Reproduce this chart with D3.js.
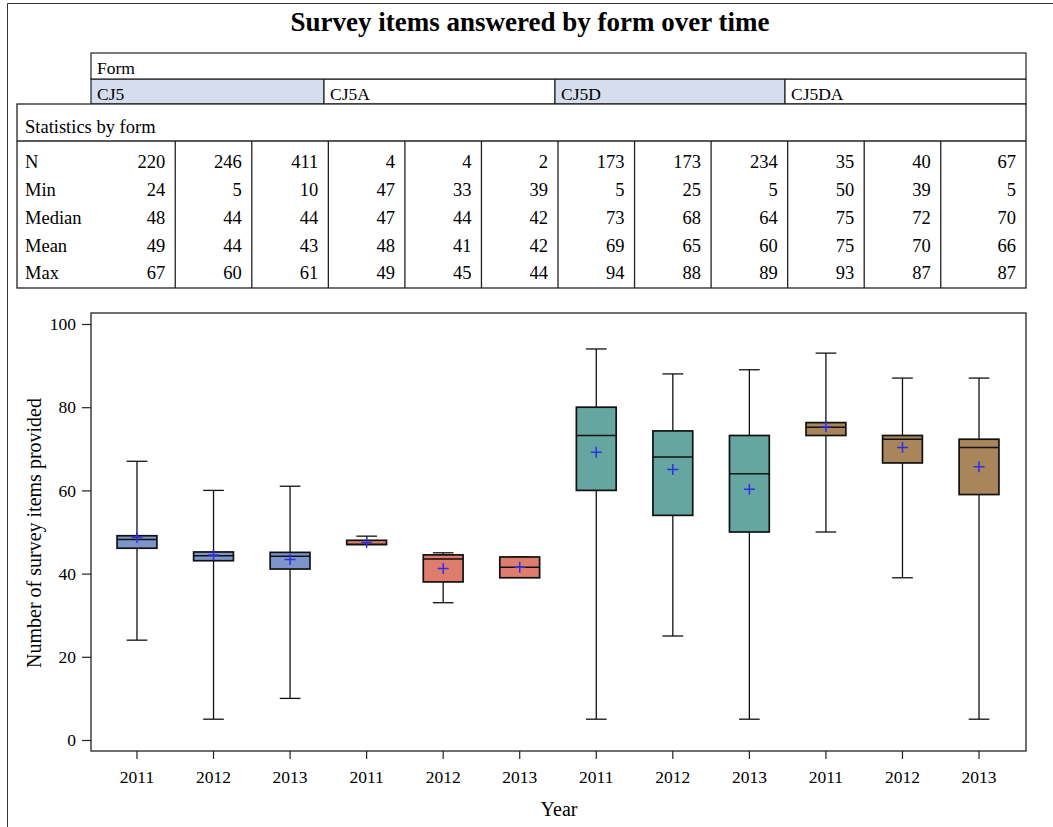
<!DOCTYPE html>
<html>
<head>
<meta charset="utf-8">
<script src="https://cdn.jsdelivr.net/npm/d3@7"></script>
<style>
html,body{margin:0;padding:0;background:#fff;}
svg{display:block;}
text{font-family:"Liberation Serif","Times New Roman",serif;fill:#000;}
</style>
</head>
<body>
<svg id="chart" width="1053" height="827"></svg>
<script>
// ---------- data ----------
const forms = ["CJ5", "CJ5A", "CJ5D", "CJ5DA"];
const years = ["2011", "2012", "2013"];
const formColors = ["#7C96CC", "#DE7D6D", "#66A6A0", "#A8855A"];

const minValues    = [24, 5, 10, 47, 33, 39, 5, 25, 5, 50, 39, 5];
const q1Values     = [46.1, 43.1, 41.1, 47, 38, 39, 60, 54, 50, 73.2, 66.6, 59];
const medianValues = [48.2, 44.3, 44.2, 47, 43.5, 41.5, 73.2, 68, 64, 75.2, 72.3, 70.3];
const q3Values     = [49.1, 45.2, 45.1, 48, 44.5, 44, 80, 74.3, 73.2, 76.3, 73.2, 72.3];
const maxValues    = [67, 60, 61, 49, 45, 44, 94, 88, 89, 93, 87, 87];
const meanValues   = [48.7, 44.5, 43.4, 47.5, 41.25, 41.5, 69.2, 65, 60.3, 75.3, 70.3, 65.7];

const statLabels  = ["N", "Min", "Median", "Mean", "Max"];
const tableN      = ["220", "246", "411", "4", "4", "2", "173", "173", "234", "35", "40", "67"];
const tableMin    = ["24", "5", "10", "47", "33", "39", "5", "25", "5", "50", "39", "5"];
const tableMedian = ["48", "44", "44", "47", "44", "42", "73", "68", "64", "75", "72", "70"];
const tableMean   = ["49", "44", "43", "48", "41", "42", "69", "65", "60", "75", "70", "66"];
const tableMax    = ["67", "60", "61", "49", "45", "44", "94", "88", "89", "93", "87", "87"];
const tableRows = [tableN, tableMin, tableMedian, tableMean, tableMax];

const yTicks = [0, 20, 40, 60, 80, 100];
const titleText = "Survey items answered by form over time";
const xTitle = "Year";
const yTitle = "Number of survey items provided";

// ---------- build ----------
const cats = forms.flatMap((f, fi) => years.map(y => ({form: f, fi, year: y, key: f + "|" + y})));
cats.forEach((c, i) => {
  c.min = minValues[i]; c.q1 = q1Values[i]; c.med = medianValues[i];
  c.q3 = q3Values[i]; c.max = maxValues[i]; c.mean = meanValues[i];
});

const svg = d3.select("#chart");

// outer frame (top/left edges)
svg.append("path").attr("d", "M7.5,840 V3.5 H1060").attr("fill", "none").attr("stroke", "#333").attr("stroke-width", 1);

// title
svg.append("text").attr("x", 530).attr("y", 31).attr("text-anchor", "middle")
  .style("font-size", "27px").style("font-weight", "bold").text(titleText);

// plot frame
const frame = {x0: 91, x1: 1026, y0: 313, y1: 751};
const x = d3.scaleBand().domain(cats.map(c => c.key)).range([98.7, 1017.3]).padding(0);
const y = d3.scaleLinear().domain([0, 100]).range([740, 324]);
const bw = x.bandwidth();

// ---------- Form header table ----------
const formEdges = [91, 324, 555, 785, 1026];
const ft = svg.append("g");
ft.selectAll("rect.fcell").data(forms).join("rect")
  .attr("x", (d, i) => formEdges[i]).attr("y", 79)
  .attr("width", (d, i) => formEdges[i + 1] - formEdges[i]).attr("height", 25)
  .attr("fill", (d, i) => i % 2 === 0 ? "#D6DDEC" : "#fff")
  .attr("stroke", "#222").attr("stroke-width", 1.2);
ft.append("rect").attr("x", 91).attr("y", 53).attr("width", 935).attr("height", 26)
  .attr("fill", "#fff").attr("stroke", "#222").attr("stroke-width", 1.2);
ft.append("text").attr("x", 97).attr("y", 74).style("font-size", "17.5px").text("Form");
ft.selectAll("text.fl").data(forms).join("text").attr("class", "fl")
  .attr("x", (d, i) => formEdges[i] + 6).attr("y", 100).style("font-size", "17.5px").text(d => d);

// ---------- Statistics table ----------
const st = svg.append("g");
st.append("rect").attr("x", 17).attr("y", 104).attr("width", 1009).attr("height", 184)
  .attr("fill", "#fff").attr("stroke", "#222").attr("stroke-width", 1.3);
st.append("line").attr("x1", 17).attr("x2", 1026).attr("y1", 141).attr("y2", 141)
  .attr("stroke", "#222").attr("stroke-width", 1.3);
st.append("text").attr("x", 25).attr("y", 133).style("font-size", "18.5px").text("Statistics by form");
st.selectAll("line.col").data(cats.slice(1)).join("line").attr("class", "col")
  .attr("x1", d => x(d.key)).attr("x2", d => x(d.key)).attr("y1", 141).attr("y2", 288)
  .attr("stroke", "#222").attr("stroke-width", 1.3);
const rowY = [168, 196, 224, 251.5, 279];
statLabels.forEach((lab, r) => {
  st.append("text").attr("x", 25).attr("y", rowY[r]).style("font-size", "18.5px").text(lab);
  st.selectAll("text.v" + r).data(cats).join("text").attr("class", "v" + r)
    .attr("x", (d, i) => (i === cats.length - 1 ? 1026 : x(d.key) + bw) - 10)
    .attr("y", rowY[r]).attr("text-anchor", "end").style("font-size", "18.5px")
    .text((d, i) => tableRows[r][i]);
});

// ---------- plot ----------
const plot = svg.append("g");
plot.append("rect").attr("x", frame.x0).attr("y", frame.y0)
  .attr("width", frame.x1 - frame.x0).attr("height", frame.y1 - frame.y0)
  .attr("fill", "none").attr("stroke", "#222").attr("stroke-width", 1.3);

// y axis
const yAxis = d3.axisLeft(y).tickValues(yTicks).tickSize(9).tickPadding(6);
const gy = svg.append("g").attr("transform", `translate(${frame.x0},0)`).call(yAxis);
gy.select(".domain").remove();
gy.selectAll(".tick line").attr("stroke", "#222").attr("stroke-width", 1.2);
gy.selectAll(".tick text").style("font-size", "17.5px").style("font-family", "Liberation Serif").attr("fill", "#000");

// x axis
const xAxis = d3.axisBottom(x).tickFormat((k, i) => cats[i].year).tickSize(8).tickPadding(12);
const gx = svg.append("g").attr("transform", `translate(0,${frame.y1})`).call(xAxis);
gx.select(".domain").remove();
gx.selectAll(".tick line").attr("stroke", "#222").attr("stroke-width", 1.2);
gx.selectAll(".tick text").style("font-size", "17.5px").style("font-family", "Liberation Serif").attr("fill", "#000");

// axis titles
svg.append("text").attr("x", 559).attr("y", 816).attr("text-anchor", "middle")
  .style("font-size", "20px").text(xTitle);
svg.append("text").attr("transform", "translate(41,533) rotate(-90)").attr("text-anchor", "middle")
  .style("font-size", "20px").text(yTitle);

// boxes
const boxW = bw * 0.52, capW = bw * 0.27;
const bx = plot.selectAll("g.box").data(cats).join("g").attr("class", "box")
  .attr("transform", d => `translate(${x(d.key) + bw / 2},0)`);
// whiskers
bx.append("line").attr("x1", 0).attr("x2", 0).attr("y1", d => y(d.q3)).attr("y2", d => y(d.max))
  .attr("stroke", "#111").attr("stroke-width", 1.3);
bx.append("line").attr("x1", 0).attr("x2", 0).attr("y1", d => y(d.q1)).attr("y2", d => y(d.min))
  .attr("stroke", "#111").attr("stroke-width", 1.3);
bx.append("line").attr("x1", -capW / 2).attr("x2", capW / 2).attr("y1", d => y(d.max)).attr("y2", d => y(d.max))
  .attr("stroke", "#111").attr("stroke-width", 1.3);
bx.filter(d => d.min < d.q1).append("line").attr("x1", -capW / 2).attr("x2", capW / 2)
  .attr("y1", d => y(d.min)).attr("y2", d => y(d.min))
  .attr("stroke", "#111").attr("stroke-width", 1.3);
// box
bx.append("rect").attr("x", -boxW / 2).attr("width", boxW)
  .attr("y", d => y(d.q3)).attr("height", d => y(d.q1) - y(d.q3))
  .attr("fill", d => formColors[d.fi]).attr("stroke", "#111").attr("stroke-width", 1.7);
// median
bx.append("line").attr("x1", -boxW / 2).attr("x2", boxW / 2)
  .attr("y1", d => y(d.med)).attr("y2", d => y(d.med))
  .attr("stroke", "#111").attr("stroke-width", 1.5);
// mean marker
bx.append("path").attr("d", d => `M-5.5,${y(d.mean)}h11M0,${y(d.mean) - 5.5}v11`)
  .attr("stroke", "#2F2FE6").attr("stroke-width", 1.5).attr("fill", "none");
</script>
</body>
</html>
